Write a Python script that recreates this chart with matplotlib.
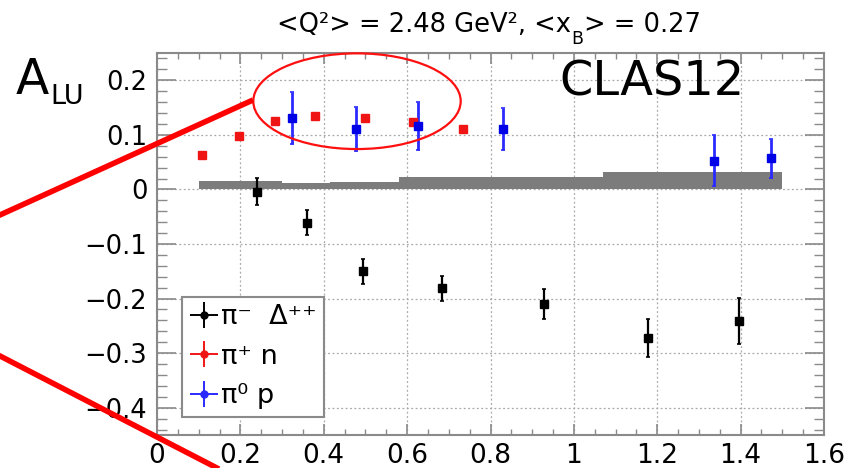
import numpy as np
import matplotlib
matplotlib.use("Agg")
import matplotlib.pyplot as plt
from matplotlib.patches import Ellipse
from matplotlib.lines import Line2D
from matplotlib.ticker import MultipleLocator, FixedLocator, FuncFormatter
from matplotlib.container import ErrorbarContainer
from matplotlib.legend_handler import HandlerErrorbar

plt.rcParams["font.family"] = ["DejaVu Sans"]

# pi- Delta++ channel
pim_x = [0.239, 0.359, 0.495, 0.684, 0.929, 1.178, 1.396]
pim_y = [-0.004, -0.061, -0.150, -0.181, -0.210, -0.272, -0.241]
pim_err = [0.025, 0.023, 0.023, 0.023, 0.027, 0.035, 0.042]

# pi+ n channel
pip_x = [0.109, 0.196, 0.282, 0.380, 0.498, 0.615, 0.734]
pip_y = [0.063, 0.097, 0.125, 0.134, 0.130, 0.123, 0.111]
pip_err = [0.003, 0.003, 0.003, 0.003, 0.003, 0.003, 0.003]

# pi0 p channel
pi0_x = [0.325, 0.478, 0.625, 0.831, 1.337, 1.472]
pi0_y = [0.131, 0.111, 0.116, 0.111, 0.053, 0.057]
pi0_err = [0.047, 0.040, 0.044, 0.038, 0.047, 0.036]

# systematic uncertainty band
sys_edges = [0.1, 0.3, 0.415, 0.58, 1.07, 1.5]
sys_vals = [0.0146, 0.0117, 0.0135, 0.0226, 0.0317]

x_ticks = [0, 0.2, 0.4, 0.6, 0.8, 1.0, 1.2, 1.4, 1.6]
y_ticks = [-0.4, -0.3, -0.2, -0.1, 0.0, 0.1, 0.2]
labels = ["\u03c0\u207b  \u0394\u207a\u207a", "\u03c0\u207a n", "\u03c0\u2070 p"]

W, H = 863, 468
fig = plt.figure(figsize=(W / 100, H / 100), dpi=100)
ax = fig.add_axes([157 / W, 33 / H, 667 / W, 382 / H])

frame_col = "#8a8a8a"
ax.set_xlim(0, 1.6)
ax.set_ylim(-0.45, 0.25)

ax.stairs(sys_vals, sys_edges, baseline=0, fill=True, color="#7c7c7c", zorder=2)

kw = dict(fmt="s", capsize=1.5, capthick=1.2, zorder=4)
ax.errorbar(pim_x, pim_y, yerr=pim_err, color="black", ms=5.5, elinewidth=1.6, **kw)
ax.errorbar(pip_x, pip_y, yerr=pip_err, color="#f01515", ms=5.5, elinewidth=1.2, **kw)
ax.errorbar(pi0_x, pi0_y, yerr=pi0_err, color="#2a2aff", mfc="#0000e6", mec="#0000e6",
            ms=6, elinewidth=2.0, **kw)

ax.xaxis.set_major_locator(FixedLocator(x_ticks))
ax.xaxis.set_minor_locator(MultipleLocator(0.05))
ax.yaxis.set_major_locator(FixedLocator(y_ticks))
ax.yaxis.set_minor_locator(MultipleLocator(0.02))
fmt = FuncFormatter(lambda v, p: ("%g" % round(v, 3)).replace("-", "\u2212"))
ax.xaxis.set_major_formatter(fmt)
ax.yaxis.set_major_formatter(fmt)

for s in ax.spines.values():
    s.set_color(frame_col)
    s.set_linewidth(1.5)
ax.tick_params(axis="y", which="major", direction="in", length=13.5, width=1.2,
               color=frame_col, left=True, right=True, labelsize=18.5, pad=7)
ax.tick_params(axis="y", which="minor", direction="in", length=7, width=1.0,
               color=frame_col, left=True, right=True)
ax.tick_params(axis="x", which="major", direction="in", length=8, width=1.2,
               color=frame_col, top=True, bottom=True, labelsize=19, pad=6)
ax.tick_params(axis="x", which="minor", direction="in", length=4, width=1.0,
               color=frame_col, top=True, bottom=True)
ax.grid(True, which="major", linestyle=(0, (1.5, 2)), color="#a8a8a8", linewidth=0.9)
ax.set_axisbelow(True)

# legend entries: marker with horizontal and vertical bars
handles = []
for c in ["black", "#f01515", "#2a2aff"]:
    h = ax.errorbar([np.nan], [np.nan], xerr=[1], yerr=[1], fmt="o", color=c,
                    ms=5, elinewidth=1.4, capsize=0)
    handles.append(h)
leg = ax.legend(handles, labels, loc="upper left", bbox_to_anchor=(0.038, 0.362),
                borderaxespad=0, fontsize=19.5, frameon=True, fancybox=False,
                framealpha=1, edgecolor=frame_col, handlelength=1.03,
                handletextpad=0.12, borderpad=0.28, labelspacing=0.5,
                handler_map={ErrorbarContainer: HandlerErrorbar(xerr_size=0.52, yerr_size=0.48)})
leg.get_frame().set_linewidth(1.5)
leg.set_zorder(5)


def fx(px):
    return px / W


def fy(py):
    return 1 - py / H


# title with subscripted x_B
title_size = 18.5
t1 = fig.text(fx(270), fy(32), "<Q\u00b2> = 2.48 GeV\u00b2, <x", fontsize=title_size,
              va="baseline")
t2 = ax.annotate("B", xy=(1, 0), xycoords=t1, xytext=(0.5, -7.5),
                 textcoords="offset points", fontsize=12.5, va="bottom", ha="left",
                 annotation_clip=False)
t3 = ax.annotate("> = 0.27", xy=(1, 0), xycoords=(t2, t1), xytext=(0.5, 0),
                 textcoords="offset points", fontsize=title_size, va="bottom",
                 ha="left", annotation_clip=False)

# centre the title over the frame
fig.canvas.draw()
r = fig.canvas.get_renderer()
bb1 = t1.get_window_extent(r)
bb3 = t3.get_window_extent(r)
width = bb3.x1 - bb1.x0
t1.set_x(fx(489 - width / 2))

# axis label
fig.text(fx(16), fy(94), "A", fontsize=35, va="baseline")
fig.text(fx(50), fy(104), "LU", fontsize=19.5, va="baseline")

# experiment tag
fig.text(fx(559), fy(95), "CLAS12", fontsize=34.5, va="baseline")

# highlight ellipse and pointer lines
fig.add_artist(Ellipse((fx(357), fy(101.2)), 207.4 / W, 95.7 / H, fill=False,
                       edgecolor="#ff1010", linewidth=1.6, transform=fig.transFigure,
                       zorder=10))
fig.add_artist(Line2D([fx(-10), fx(253)], [fy(219.5), fy(100)], color="#ff0000",
                      linewidth=4, transform=fig.transFigure, zorder=10,
                      solid_capstyle="butt"))
fig.add_artist(Line2D([fx(-10), fx(235)], [fy(350.8), fy(477.3)], color="#ff0000",
                      linewidth=4, transform=fig.transFigure, zorder=10,
                      solid_capstyle="butt"))

fig.savefig("out.png", dpi=100)
